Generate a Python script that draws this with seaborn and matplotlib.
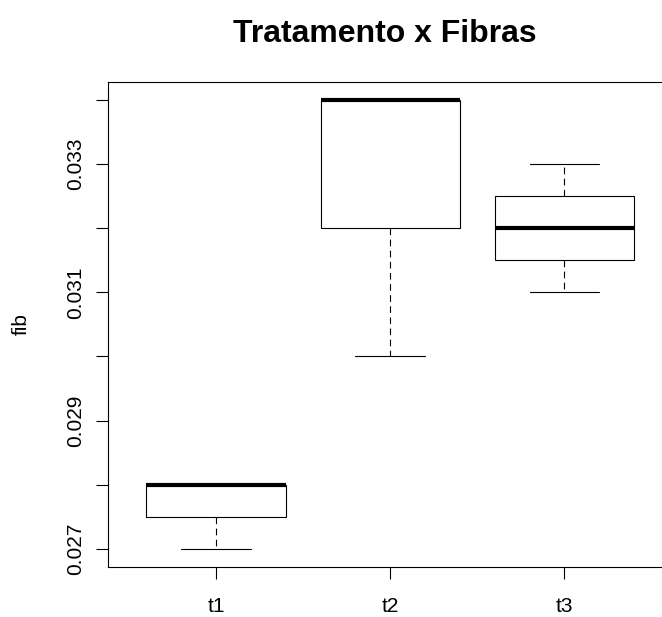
import numpy as np
import pandas as pd
import matplotlib
matplotlib.use("Agg")
import matplotlib.pyplot as plt
import seaborn as sns

# ---- data ----
groups = ["t1", "t2", "t3"]
fib_t1 = [0.027, 0.028, 0.028]
fib_t2 = [0.030, 0.032, 0.034, 0.034, 0.034]
fib_t3 = [0.031, 0.032, 0.033]
ytick_values = [0.027, 0.028, 0.029, 0.030, 0.031, 0.032, 0.033, 0.034]
ytick_labels = ["0.027", "", "0.029", "", "0.031", "", "0.033", ""]
title = "Tratamento x Fibras"
ylabel = "fib"

df = pd.DataFrame({
    "trat": ["t1"] * len(fib_t1) + ["t2"] * len(fib_t2) + ["t3"] * len(fib_t3),
    "fib": fib_t1 + fib_t2 + fib_t3,
})

sns.set_style("white")
plt.rcParams["font.family"] = ["Liberation Sans", "DejaVu Sans"]

W, H = 662, 617
fig = plt.figure(figsize=(W / 100, H / 100), dpi=100)
ax = fig.add_axes([108 / W, 50.3 / H, 564.4 / W, 484.7 / H])

lw = 0.8
sns.boxplot(
    data=df, x="trat", y="fib", order=groups, ax=ax,
    color="white", linecolor="black", linewidth=lw, width=0.8,
    saturation=1, whis=1.5, showfliers=False,
    medianprops=dict(linewidth=3, color="black"),
    whiskerprops=dict(linestyle=(0, (6, 4)), linewidth=lw, color="black"),
    capprops=dict(linewidth=lw, color="black"),
    boxprops=dict(linewidth=lw, edgecolor="black", facecolor="white"),
)

ax.set_xlim(-0.62, 2.62)
ax.set_ylim(0.02672, 0.03428)
ax.set_yticks(ytick_values)
ax.set_yticklabels(ytick_labels, rotation=90, va="center")
ax.set_xlabel("")
ax.set_ylabel("")
ax.tick_params(axis="both", which="both", direction="out", length=8.64,
               width=lw, color="black", labelsize=15, labelcolor="black",
               left=True, bottom=True)
ax.tick_params(axis="x", pad=13)
ax.tick_params(axis="y", pad=8)
for s in ax.spines.values():
    s.set_visible(True)
    s.set_color("black")
    s.set_linewidth(lw)

fig.text(384.7 / W, 1 - 41.7 / H, title, ha="center", va="baseline",
         fontsize=23, fontweight="bold", color="black")
fig.text(21 / W, 1 - 324.35 / H, ylabel, rotation=90, ha="center",
         va="center", fontsize=15, color="black")

fig.savefig("out.png", dpi=100)
